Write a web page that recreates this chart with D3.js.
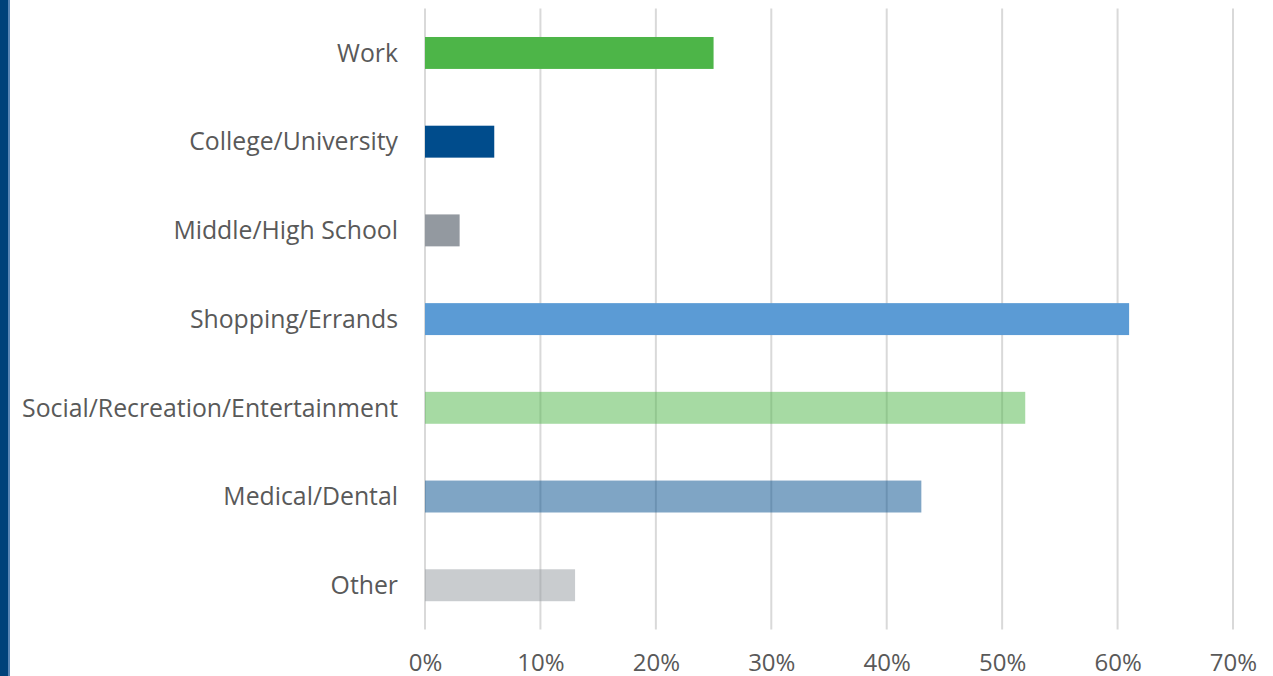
<!DOCTYPE html>
<html><head><meta charset="utf-8">
<script src="https://cdn.jsdelivr.net/npm/d3@7"></script>
<style>
html,body{margin:0;padding:0;background:#fff;}
svg{display:block;}
</style></head>
<body><svg id="chart" width="1273" height="676"></svg>
<script>
const categories = ["Work","College/University","Middle/High School","Shopping/Errands","Social/Recreation/Entertainment","Medical/Dental","Other"];
const values = [25, 6, 3, 61, 52, 43, 13];
const colors = ["#4db548","#004c8c","#9399a0","#5b9bd5","#4db548","#004c8c","#9399a0"];
const opacities = [1,1,1,1,0.5,0.5,0.5];
const tickValues = [0,10,20,30,40,50,60,70];

const svg = d3.select("#chart");
const W = 1273, H = 676;
const x0 = 425, x1 = 1233, yTop = 8.6, yBot = 629.6;
const FONT = "'Open Sans', 'Noto Sans', sans-serif";

// left stripe
svg.append("rect").attr("x",0).attr("y",0).attr("width",8).attr("height",H).attr("fill","#00427a");
svg.append("rect").attr("x",8).attr("y",0).attr("width",2).attr("height",H).attr("fill","#5b86b5");

const x = d3.scaleLinear().domain([0,70]).range([x0,x1]);
const y = d3.scaleBand().domain(categories).range([yTop,yBot]).paddingInner(0.64).paddingOuter(0.32);

// gridlines
svg.append("g").selectAll("line").data(tickValues).join("line")
  .attr("x1",d=>x(d)).attr("x2",d=>x(d)).attr("y1",yTop).attr("y2",yBot)
  .attr("stroke","#d9d9d9").attr("stroke-width",2);

// bars
svg.append("g").selectAll("rect").data(categories).join("rect")
  .attr("x",x(0)).attr("y",d=>y(d)).attr("height",y.bandwidth())
  .attr("width",(d,i)=>x(values[i])-x(0))
  .attr("fill",(d,i)=>colors[i]).attr("fill-opacity",(d,i)=>opacities[i]);

// x axis labels
const xa = d3.axisBottom(x).tickValues(tickValues).tickFormat(d=>d+"%").tickSize(0).tickPadding(0);
const gx = svg.append("g").attr("transform",`translate(0,${yBot})`).call(xa);
gx.select(".domain").remove();
gx.selectAll("text").attr("y",41.5).attr("dy",0).attr("fill","#595959")
  .style("font-family",FONT).style("font-size","24px");

// y axis labels
const ya = d3.axisLeft(y).tickSize(0).tickPadding(27);
const gy = svg.append("g").attr("transform",`translate(${x0},0)`).call(ya);
gy.select(".domain").remove();
gy.selectAll("text").attr("fill","#595959").attr("dy","0.35em")
  .style("font-family",FONT).style("font-size","24.8px");
</script></body></html>
